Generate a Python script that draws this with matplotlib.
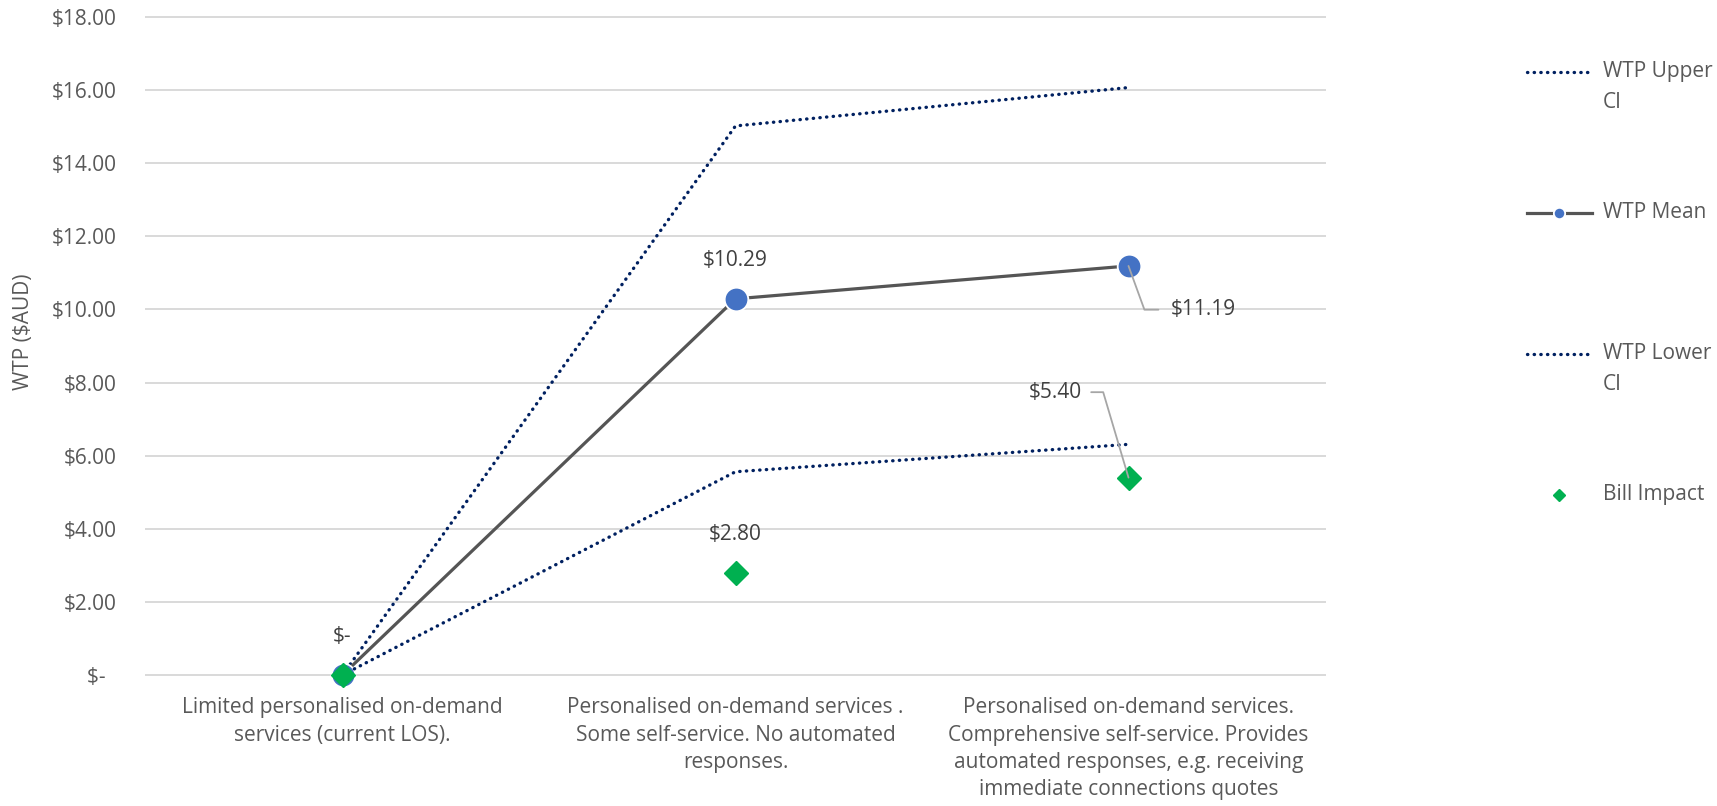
import matplotlib
matplotlib.use("Agg")
import matplotlib.pyplot as plt
from matplotlib.ticker import FuncFormatter, MultipleLocator
from matplotlib.legend_handler import HandlerLine2D
from matplotlib.transforms import Affine2D

plt.rcParams['font.family'] = ['Open Sans', 'DejaVu Sans']

# ---- data ----
categories = [
    "Limited personalised on-demand\nservices (current LOS).",
    "Personalised on-demand services .\nSome self-service. No automated\nresponses.",
    "Personalised on-demand services.\nComprehensive self-service. Provides\nautomated responses, e.g. receiving\nimmediate connections quotes",
]
wtp_upper = [0.0, 15.02, 16.07]
wtp_mean = [0.0, 10.29, 11.19]
wtp_lower = [0.0, 5.56, 6.31]
bill_impact = [0.0, 2.80, 5.40]
legend_labels = ["WTP Upper\nCI", "WTP Mean\n ", "WTP Lower\nCI", "Bill Impact\n "]

FS = 15
TXT = '#595959'
LBL = '#404040'
NAVY = '#002060'


def money(v, pos=None):
    if abs(v) < 1e-9:
        return "$-"
    return "${:,.2f}".format(v)


class FirstLineHandler(HandlerLine2D):
    # legend handle sits on the first line of a two line label (like excel)
    def __init__(self, shift, **kw):
        super().__init__(**kw)
        self.shift = shift

    def create_artists(self, legend, orig_handle, xdescent, ydescent,
                       width, height, fontsize, trans):
        arts = super().create_artists(legend, orig_handle, xdescent, ydescent,
                                      width, height, fontsize, trans)
        for a in arts:
            a.set_transform(Affine2D().translate(0, self.shift) + trans)
        return arts


fig = plt.figure(figsize=(17.17, 8.06), dpi=100)
ax = fig.add_axes([146/1717, 1 - 675/806, 1179/1717, 658/806])

x = list(range(len(categories)))
l_up, = ax.plot(x, wtp_upper, color=NAVY, lw=2.4, ls=(0, (0.1, 1.9)),
                dash_capstyle='round', zorder=3, clip_on=False)
l_mean, = ax.plot(x, wtp_mean, color='#555555', lw=2.3, marker='o', ms=17,
                  mfc='#4472C4', mec='white', mew=1.3, zorder=4, clip_on=False)
l_low, = ax.plot(x, wtp_lower, color=NAVY, lw=2.4, ls=(0, (0.1, 1.9)),
                 dash_capstyle='round', zorder=5, clip_on=False)
l_bill, = ax.plot(x, bill_impact, ls='none', marker='D', ms=12.5,
                  color='#00B050', zorder=6, clip_on=False)

ax.set_xlim(-0.5, len(categories) - 0.5)
ax.set_ylim(0, 18)
ax.yaxis.set_major_locator(MultipleLocator(2))
ax.yaxis.set_major_formatter(FuncFormatter(lambda v, p: money(v) + ("  " if abs(v) < 1e-9 else "")))
ax.set_xticks(x)
ax.set_xticklabels(categories, linespacing=1.4)
ax.tick_params(axis='y', length=0, labelsize=FS, labelcolor=TXT, pad=21)
ax.tick_params(axis='x', length=0, labelsize=FS, labelcolor=TXT, pad=16)
for s in ax.spines.values():
    s.set_visible(False)
ax.yaxis.grid(True, color='#d9d9d9', lw=1.4)
ax.set_axisbelow(True)
for gl in ax.get_ygridlines():
    gl.set_clip_on(False)

fig.text(23/1717, 1 - 332/806, "WTP ($AUD)", rotation=90, ha='center',
         va='center', fontsize=FS, color=TXT)

# data labels above the points
for i in (0, 1):
    ax.annotate(money(wtp_mean[i]), (i, wtp_mean[i]), xytext=(0, 27.5),
                textcoords='offset points', ha='center', va='center',
                fontsize=FS, color=LBL)
ax.annotate(money(bill_impact[1]), (1, bill_impact[1]), xytext=(0, 27.5),
            textcoords='offset points', ha='center', va='center',
            fontsize=FS, color=LBL)

# labels with leader lines
ax.annotate(money(wtp_mean[2]), (2, wtp_mean[2]), xytext=(54, -31.5),
            textcoords='offset points', ha='center', va='center',
            fontsize=FS, color=LBL, zorder=7,
            arrowprops=dict(arrowstyle='-', color='#a6a6a6', lw=1.3,
                            shrinkA=7, shrinkB=0, relpos=(0, 0.5),
                            connectionstyle='angle,angleA=0,angleB=-70,rad=0'))
ax.annotate(money(bill_impact[2]), (2, bill_impact[2]), xytext=(-52.5, 61.5),
            textcoords='offset points', ha='center', va='center',
            fontsize=FS, color=LBL, zorder=7,
            arrowprops=dict(arrowstyle='-', color='#a6a6a6', lw=1.3,
                            shrinkA=4.5, shrinkB=0, relpos=(1, 0.5),
                            connectionstyle='angle,angleA=0,angleB=-73.5,rad=0'))

handles = [l_up, l_mean, l_low, l_bill]
leg = fig.legend(handles=handles, labels=legend_labels, loc='upper left',
                 bbox_to_anchor=(1527/1717, 1 - 61/806), frameon=False,
                 fontsize=FS, labelcolor=TXT, handlelength=3.1,
                 handletextpad=0.55, labelspacing=4.25, borderpad=0,
                 borderaxespad=0, markerscale=0.48,
                 handler_map={h: FirstLineHandler(11.2) for h in handles})
for t in leg.get_texts():
    t.set_linespacing(1.65)

fig.savefig("out.png", dpi=100)
